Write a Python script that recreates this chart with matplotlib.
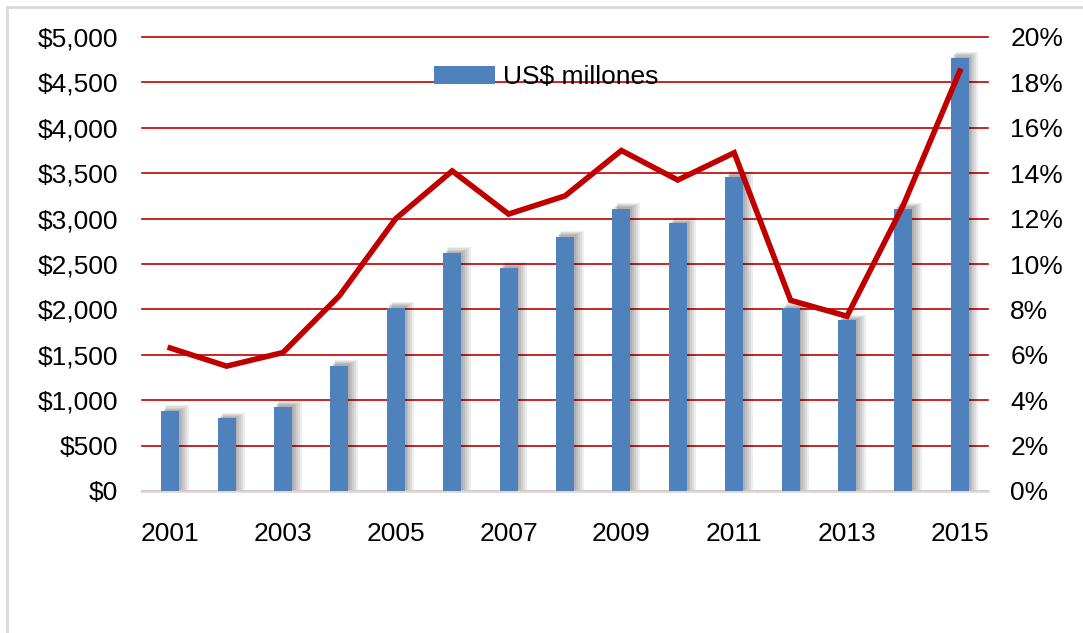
import numpy as np
import matplotlib.pyplot as plt
from matplotlib.patches import Rectangle
from matplotlib.ticker import FuncFormatter

plt.rcParams['font.family'] = ['Liberation Sans', 'DejaVu Sans']

years = np.arange(2001, 2016)
usd_millones = [880, 800, 930, 1380, 2020, 2620, 2460, 2800, 3110, 2950, 3460, 2010, 1880, 3110, 4770]
pct = [6.3, 5.5, 6.1, 8.6, 12.0, 14.1, 12.2, 13.0, 15.0, 13.7, 14.9, 8.4, 7.7, 12.6, 18.5]
xtick_years = [2001, 2003, 2005, 2007, 2009, 2011, 2013, 2015]

blue = '#4F81BD'
red = '#C00000'

fig = plt.figure(figsize=(10.83, 6.33), dpi=100)
# light frame around chart
fig.patches.append(Rectangle((7 / 1083, -0.1), 1.2, 1 - 7 / 633 + 0.1, transform=fig.transFigure,
                             fill=False, edgecolor='#d9d9d9', linewidth=2))

ax = fig.add_axes([142 / 1083, 1 - 491 / 633, 846 / 1083, 454 / 633])
ax2 = ax.twinx()

# soft shadow behind bars
w = 0.32
for k in range(5):
    dx = 0.03 + 0.025 * k
    ax.bar(years + dx, np.array(usd_millones) + 15 + 12 * k, width=w + 0.02 * k, color='black',
           alpha=0.07, linewidth=0, zorder=2)
ax.bar(years, usd_millones, width=w, color=blue, zorder=3, label='US$ millones')

ax.set_ylim(0, 5000)
ax.set_yticks(np.arange(0, 5001, 500))
ax.yaxis.set_major_formatter(FuncFormatter(lambda v, p: f'${v:,.0f}'))
ax.set_xlim(2000.5, 2015.5)
ax.set_xticks(xtick_years)
ax.grid(axis='y', color=red, linewidth=1.2, zorder=1)
for gl in ax.get_ygridlines():
    gl.set_clip_on(False)
ax.set_axisbelow(True)

ax2.plot(years, pct, color=red, linewidth=4, solid_joinstyle='miter', zorder=4)
ax2.set_ylim(0, 20)
ax2.set_yticks(np.arange(0, 21, 2))
ax2.yaxis.set_major_formatter(FuncFormatter(lambda v, p: f'{v:.0f}%'))

for a in (ax, ax2):
    for s in a.spines.values():
        s.set_visible(False)
    a.tick_params(length=0, labelsize=19)
ax.tick_params(axis='y', pad=17)
ax.tick_params(axis='x', pad=22)
ax2.tick_params(axis='y', pad=16)
ax.spines['bottom'].set_visible(True)
ax.spines['bottom'].set_color('#d9d9d9')
ax.spines['bottom'].set_linewidth(2)
ax.set_zorder(1)
ax2.set_zorder(2)
ax2.patch.set_visible(False)

ax.legend(loc='upper center', bbox_to_anchor=(0.478, 0.99), frameon=False, fontsize=19,
          handlelength=2.3, handleheight=0.7, handletextpad=0.3)

fig.savefig('out.png', dpi=100)
